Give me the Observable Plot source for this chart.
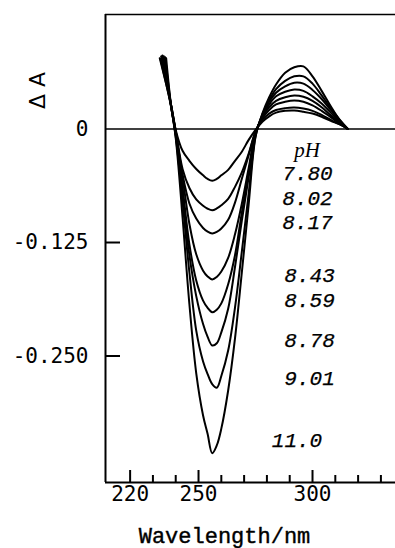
<!DOCTYPE html>
<html>
<head>
<meta charset="utf-8">
<script src="https://cdn.jsdelivr.net/npm/d3@7"></script>
<script src="https://cdn.jsdelivr.net/npm/@observablehq/plot@0.6"></script>
<style>
  html, body { margin: 0; padding: 0; background: #fff; }
  #chart svg { display: block; }
</style>
</head>
<body>
<div id="chart"></div>
<script>
// ---- data ----
const phLabels = ["7.80", "8.02", "8.17", "8.43", "8.59", "8.78", "9.01", "11.0"];
// start tip of each trace (nm, ΔA)
const startNm = [233.0, 233.6, 234.2, 234.8, 235.4, 235.8, 233.3, 234.0];
const startDA = [0.078, 0.080, 0.081, 0.080, 0.079, 0.078, 0.077, 0.080];
// shared wavelength grid (nm)
const wavelengths = [238, 240, 243, 246, 249, 252, 254, 256, 258, 260, 263, 266, 269, 272, 275, 278, 281, 284, 288, 292, 296, 300, 304, 308, 312, 315.5];
const dA_780 = [0.026, -0.001, -0.024, -0.035, -0.044, -0.051, -0.055, -0.057, -0.055, -0.051, -0.045, -0.035, -0.025, -0.012, -0.001, 0.008, 0.014, 0.018, 0.020, 0.0204, 0.019, 0.017, 0.0135, 0.009, 0.005, 0];
const dA_802 = [0.026, -0.002, -0.044, -0.065, -0.0776, -0.0845, -0.0878, -0.0895, -0.0875, -0.0840, -0.0769, -0.0637, -0.0478, -0.027, -0.003, 0.010, 0.017, 0.021, 0.023, 0.0237, 0.0225, 0.020, 0.0155, 0.010, 0.005, 0];
const dA_817 = [0.026, -0.003, -0.050, -0.082, -0.0986, -0.109, -0.113, -0.115, -0.1134, -0.1096, -0.100, -0.081, -0.0548, -0.029, -0.003, 0.012, 0.021, 0.027, 0.030, 0.0314, 0.030, 0.026, 0.020, 0.013, 0.006, 0];
const dA_843 = [0.025, -0.004, -0.0534, -0.1046, -0.138, -0.156, -0.1624, -0.1657, -0.163, -0.157, -0.142, -0.116, -0.0823, -0.043, -0.0044, 0.013, 0.024, 0.031, 0.035, 0.0369, 0.0355, 0.031, 0.024, 0.015, 0.007, 0];
const dA_859 = [0.025, -0.005, -0.0644, -0.127, -0.1668, -0.189, -0.197, -0.2019, -0.1990, -0.1920, -0.171, -0.139, -0.092, -0.048, -0.005, 0.014, 0.027, 0.036, 0.041, 0.0435, 0.042, 0.036, 0.028, 0.018, 0.008, 0];
const dA_878 = [0.025, -0.006, -0.071, -0.139, -0.184, -0.2148, -0.2290, -0.2384, -0.236, -0.2240, -0.198, -0.152, -0.1008, -0.053, -0.006, 0.015, 0.030, 0.040, 0.047, 0.051, 0.050, 0.043, 0.033, 0.021, 0.009, 0];
const dA_901 = [0.024, -0.008, -0.0798, -0.158, -0.222, -0.256, -0.270, -0.281, -0.285, -0.272, -0.244, -0.1966, -0.135, -0.071, -0.008, 0.016, 0.032, 0.044, 0.053, 0.058, 0.058, 0.050, 0.037, 0.023, 0.010, 0];
const dA_1100 = [0.024, -0.010, -0.0975, -0.193, -0.269, -0.3155, -0.336, -0.357, -0.3485, -0.330, -0.288, -0.2307, -0.158, -0.083, -0.009, 0.017, 0.035, 0.049, 0.062, 0.068, 0.069, 0.058, 0.042, 0.025, 0.0095, 0];
const series = [dA_780, dA_802, dA_817, dA_843, dA_859, dA_878, dA_901, dA_1100];

// axes
const xDomain = [209.2, 336.4];
const yDomain = [-0.3893, 0.1261];
const xMajorTicks = [220, 250, 300];
const xMinorTicks = [230, 240, 260, 270, 280, 290, 310, 320, 330];
const yTicks = [0, -0.125, -0.25];
const yTickLabels = ["0", "-0.125", "-0.250"];
const yLabel = "\u0394 A";
const xLabel = "Wavelength/nm";
const legendTitle = "pH";

// annotation placement (data units)
const labelNm = [297.8, 297.8, 297.8, 298.7, 298.7, 298.7, 298.7, 293.2];
const labelDA = [-0.049, -0.0765, -0.103, -0.1613, -0.1889, -0.2329, -0.2748, -0.3431];
const titleNm = 297.6, titleDA = -0.0237;

// ---- build rows ----
const rows = [];
series.forEach((s, i) => {
  rows.push({nm: startNm[i], dA: startDA[i], pH: phLabels[i]});
  wavelengths.forEach((w, j) => rows.push({nm: w, dA: s[j], pH: phLabels[i]}));
});

const W = 395, H = 548;
const mL = 105, mR = 0, mT = 14, mB = 66;
const innerW = W - mL - mR, innerH = H - mT - mB;

const chart = Plot.plot({
  width: W,
  height: H,
  marginLeft: mL,
  marginRight: mR,
  marginTop: mT,
  marginBottom: mB,
  style: {background: "#fff", color: "#000", fontFamily: "DejaVu Sans Mono", fontSize: "20px", overflow: "visible"},
  x: {domain: xDomain, label: null},
  y: {domain: yDomain, label: null},
  marks: [
    // frame lines
    Plot.ruleX([xDomain[0]], {stroke: "#000", strokeWidth: 2}),
    Plot.ruleY([yDomain[1]], {stroke: "#000", strokeWidth: 1.6}),
    Plot.ruleY([yDomain[0]], {stroke: "#000", strokeWidth: 2}),
    Plot.ruleY([0], {stroke: "#000", strokeWidth: 1.6}),
    // ticks
    Plot.tickX(xMajorTicks, {x: d => d, insetTop: innerH - 12, stroke: "#000", strokeWidth: 2}),
    Plot.tickX(xMinorTicks, {x: d => d, insetTop: innerH - 7, stroke: "#000", strokeWidth: 2}),
    Plot.tickY(yTicks.filter(d => d !== 0), {y: d => d, insetRight: innerW - 15, stroke: "#000", strokeWidth: 2}),
    // tick labels
    Plot.axisX({ticks: xMajorTicks, tickSize: 0, tickPadding: 4, label: null, fontSize: 21, fontFamily: "DejaVu Sans Mono", fill: "#000"}),
    Plot.axisY({ticks: yTicks, tickSize: 0, tickPadding: 17, label: null, fontSize: 21, fontFamily: "DejaVu Sans Mono", fill: "#000",
      tickFormat: d => yTickLabels[yTicks.indexOf(d)]}),
    // traces
    Plot.line(rows, {x: "nm", y: "dA", z: "pH", stroke: "#000", strokeWidth: 2, curve: "catmull-rom"}),
    // annotations
    Plot.text([legendTitle], {x: () => titleNm, y: () => titleDA, text: d => d, fontFamily: "Liberation Serif", fontStyle: "italic", fontSize: 21, fill: "#000", textAnchor: "middle", lineAnchor: "middle"}),
    Plot.text(phLabels, {x: (d, i) => labelNm[i], y: (d, i) => labelDA[i], text: d => d, fontFamily: "Liberation Mono", fontStyle: "italic", fontSize: 21, fill: "#000", stroke: "#000", strokeWidth: 0.25, textAnchor: "middle", lineAnchor: "middle"}),
    // axis titles
    Plot.text([yLabel], {frameAnchor: "top-left", dx: -68, dy: 76, rotate: -90, text: d => d, fontFamily: "DejaVu Sans", fontSize: 22, fill: "#000", textAnchor: "middle", lineAnchor: "middle"}),
    Plot.text([xLabel], {frameAnchor: "bottom", dx: -26, dy: 53, text: d => d, fontFamily: "Liberation Mono", fontSize: 22, fill: "#000", stroke: "#000", strokeWidth: 0.4, textAnchor: "middle", lineAnchor: "middle"})
  ]
});
document.getElementById("chart").appendChild(chart);
</script>
</body>
</html>
